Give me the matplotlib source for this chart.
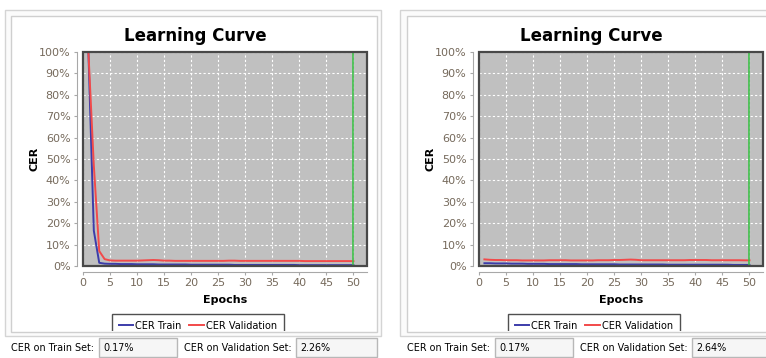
import matplotlib
matplotlib.use("Agg")
import matplotlib.pyplot as plt
from matplotlib.patches import Rectangle
from matplotlib.transforms import Bbox, TransformedBbox

W, H = 766, 358

epochs = list(range(1, 51))

left_train = [100.0, 16.5, 1.5, 1.1, 1.0, 1.0, 0.9, 0.9, 0.9, 0.8,
              0.8, 0.8, 0.8, 0.7, 0.7, 0.7, 0.7, 0.7, 0.7, 0.6,
              0.6, 0.6, 0.6, 0.6, 0.6, 0.6, 0.6, 0.5, 0.5, 0.5,
              0.5, 0.5, 0.5, 0.5, 0.5, 0.5, 0.5, 0.5, 0.5, 0.4,
              0.4, 0.4, 0.4, 0.4, 0.4, 0.4, 0.4, 0.4, 0.4, 0.4]
left_valid = [100.0, 47.0, 7.0, 3.2, 2.6, 2.5, 2.5, 2.5, 2.5, 2.5,
              2.6, 2.7, 2.8, 2.7, 2.5, 2.5, 2.4, 2.4, 2.4, 2.4,
              2.4, 2.4, 2.4, 2.4, 2.4, 2.4, 2.5, 2.5, 2.4, 2.4,
              2.4, 2.4, 2.4, 2.4, 2.4, 2.4, 2.4, 2.4, 2.4, 2.4,
              2.3, 2.3, 2.3, 2.3, 2.3, 2.3, 2.3, 2.3, 2.3, 2.26]

right_train = [1.3, 1.3, 1.2, 1.2, 1.2, 1.1, 1.1, 1.1, 1.0, 1.0,
               1.0, 1.0, 0.9, 0.9, 0.9, 0.9, 0.9, 0.9, 0.8, 0.8,
               0.8, 0.8, 0.8, 0.8, 0.8, 0.7, 0.7, 0.7, 0.7, 0.7,
               0.7, 0.7, 0.7, 0.7, 0.6, 0.6, 0.6, 0.6, 0.6, 0.6,
               0.6, 0.6, 0.6, 0.6, 0.6, 0.6, 0.5, 0.5, 0.5, 0.5]
right_valid = [3.1, 2.9, 2.8, 2.8, 2.7, 2.7, 2.7, 2.6, 2.6, 2.6,
               2.6, 2.6, 2.7, 2.7, 2.7, 2.7, 2.6, 2.6, 2.6, 2.6,
               2.6, 2.7, 2.7, 2.7, 2.8, 2.8, 2.9, 3.0, 2.9, 2.7,
               2.7, 2.7, 2.7, 2.7, 2.7, 2.7, 2.7, 2.7, 2.8, 2.8,
               2.8, 2.8, 2.7, 2.7, 2.7, 2.7, 2.7, 2.7, 2.65, 2.64]

stop_epoch = 50
left_fields = ("0.17%", "2.26%")
right_fields = ("0.17%", "2.64%")

x_ticks = list(range(0, 51, 5))
y_ticks = list(range(0, 101, 10))

BLUE = "#3c3caa"
RED = "#f24a4a"
GREEN = "#3fbf4a"
TICK_TEXT = "#766a5c"


def fig_box(x0, y0, x1, y1):
    return [x0 / W, 1 - y1 / H, (x1 - x0) / W, (y1 - y0) / H]


def draw_panel(fig, bg, px, outer, train, valid, fields):
    # window frame and chart panel
    ox0, ox1 = outer
    bg.add_patch(Rectangle((ox0, 10), ox1 - ox0, 326, facecolor="#fbfbfb",
                           edgecolor="#d4d4d4", lw=1))
    bg.add_patch(Rectangle((px, 16), 366, 316, facecolor="white",
                           edgecolor="#cfcfcf", lw=1, zorder=2))
    bg.text(px + 184, 36, "Learning Curve", ha="center", va="center",
            fontsize=12, fontweight="bold", zorder=3)

    ax = fig.add_axes(fig_box(px + 72, 52, px + 356, 266))
    ax.set_facecolor("#c0c0c0")
    ax.plot(epochs, train, color=BLUE, lw=1.4, label="CER Train")
    ax.plot(epochs, valid, color=RED, lw=1.4, label="CER Validation")
    ax.axvline(stop_epoch, color=GREEN, lw=1.2)

    ax.set_xlim(0, 52.5)
    ax.set_ylim(0, 100)
    ax.set_xticks(x_ticks)
    ax.set_yticks(y_ticks)
    ax.set_yticklabels([f"{v}%" for v in y_ticks])
    ax.grid(True, color="white", lw=0.8, linestyle=(0, (2, 2)))
    ax.tick_params(labelsize=8, labelcolor=TICK_TEXT, color="#a8a8a8",
                   length=2, width=0.8, pad=3)

    # axis lines sit slightly outside the plot outline
    for side in ("left", "bottom"):
        ax.spines[side].set_position(("outward", 4))
        ax.spines[side].set_color("#a8a8a8")
        ax.spines[side].set_linewidth(0.8)
    for side in ("top", "right"):
        ax.spines[side].set_visible(False)
    ax.add_patch(Rectangle((0, 0), 1, 1, transform=ax.transAxes, fill=False,
                           edgecolor="#484848", lw=1.6, clip_on=False, zorder=5))

    ax.set_xlabel("Epochs", fontsize=8, fontweight="bold")
    ax.xaxis.set_label_coords(0.5, -(300 - 266) / 214)
    ax.xaxis.label.set_va("center")
    ax.set_ylabel("CER", fontsize=8, fontweight="bold")
    ax.yaxis.set_label_coords(-48 / 284, 0.5)
    ax.yaxis.label.set_va("center")

    leg = ax.legend(loc="upper left", bbox_to_anchor=(px + 101, 314),
                    bbox_transform=bg.transData, ncol=2, fontsize=7,
                    frameon=True, fancybox=False, borderpad=0.7,
                    handlelength=1.5, handletextpad=0.2, columnspacing=0.8,
                    borderaxespad=0)
    frame = leg.get_frame()
    frame.set_edgecolor("#505050")
    frame.set_linewidth(1.0)
    frame.set_facecolor("white")
    frame.set_alpha(1)
    # the legend box runs past the bottom of the chart panel and is cut there
    frame.set_clip_box(TransformedBbox(Bbox.from_extents(0, 0, W, 331),
                                       bg.transData))

    # status fields under the chart
    bg.text(px, 348, "CER on Train Set:", fontsize=6.9, va="center", zorder=3)
    bg.add_patch(Rectangle((px + 88, 338), 78, 19, facecolor="#f6f6f6",
                           edgecolor="#b8b8b8", lw=1, zorder=3))
    bg.text(px + 92, 348, fields[0], fontsize=6.9, va="center", zorder=4)
    bg.text(px + 173, 348, "CER on Validation Set:", fontsize=6.9,
            va="center", zorder=3)
    bg.add_patch(Rectangle((px + 285, 338), 81, 19, facecolor="#f6f6f6",
                           edgecolor="#b8b8b8", lw=1, zorder=3))
    bg.text(px + 289, 348, fields[1], fontsize=6.9, va="center", zorder=4)
    return ax


fig = plt.figure(figsize=(W / 100, H / 100), dpi=100)
fig.patch.set_facecolor("white")
bg = fig.add_axes([0, 0, 1, 1], zorder=-1)
bg.set_xlim(0, W)
bg.set_ylim(H, 0)
bg.axis("off")

draw_panel(fig, bg, 11, (5, 381), left_train, left_valid, left_fields)
draw_panel(fig, bg, 407, (400, 780), right_train, right_valid, right_fields)

fig.savefig("out.png", dpi=100)
